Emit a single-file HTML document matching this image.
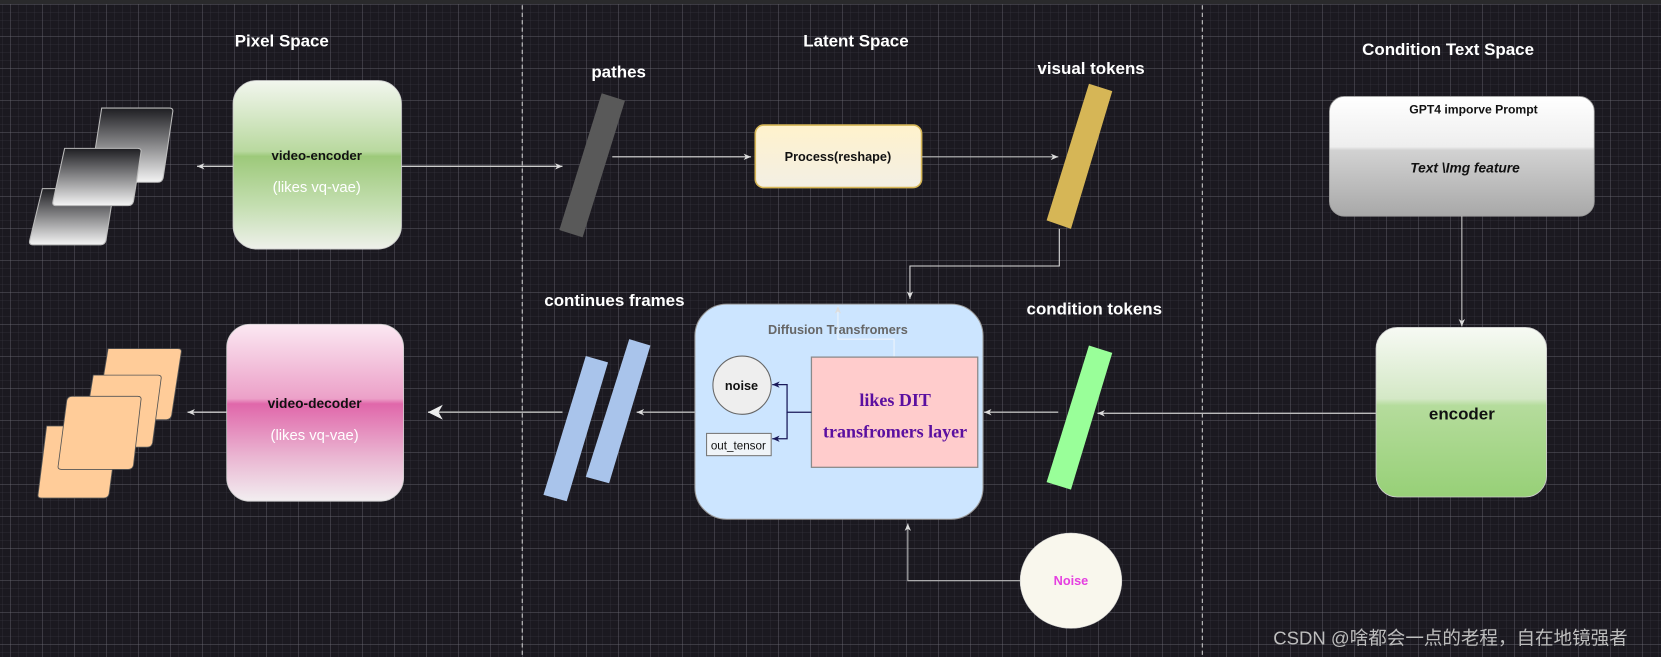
<!DOCTYPE html>
<html><head><meta charset="utf-8"><style>
html,body{margin:0;padding:0;}
body{width:1661px;height:657px;overflow:hidden;background:#1b1920;position:relative;
font-family:"Liberation Sans","Noto Sans CJK SC",sans-serif;}
#grid{position:absolute;left:0;top:0;width:1661px;height:657px;
background-image:
linear-gradient(to right, rgba(110,108,118,0.33) 1px, transparent 1px),
linear-gradient(to bottom, rgba(110,108,118,0.33) 1px, transparent 1px),
linear-gradient(to right, rgba(60,58,68,0.28) 1px, transparent 1px),
linear-gradient(to bottom, rgba(60,58,68,0.28) 1px, transparent 1px);
background-size:32px 32px,32px 32px,8px 8px,8px 8px;
background-position:10px 0,0 4px,10px 0,0 4px;}
#top{position:absolute;left:0;top:0;width:1661px;height:4px;background:#2a2a2c;}
svg{position:absolute;left:0;top:0;}
</style></head><body>
<div id="grid"></div><div id="top"></div>
<svg width="1661" height="657" viewBox="0 0 1568 620" preserveAspectRatio="none" xmlns="http://www.w3.org/2000/svg">
<defs>
<linearGradient id="gray" x1="0" y1="0" x2="0" y2="1"><stop offset="0" stop-color="#1e1e22"/><stop offset="1" stop-color="#f4f4f4"/></linearGradient>
<linearGradient id="gEnc" x1="0" y1="0" x2="0" y2="1"><stop offset="0" stop-color="#f2f6ee"/><stop offset="0.42" stop-color="#b9d99f"/><stop offset="0.45" stop-color="#9dc97a"/><stop offset="0.75" stop-color="#c5dfb2"/><stop offset="1" stop-color="#eef0ea"/></linearGradient>
<linearGradient id="gDec" x1="0" y1="0" x2="0" y2="1"><stop offset="0" stop-color="#fbe8f2"/><stop offset="0.42" stop-color="#eca0c8"/><stop offset="0.45" stop-color="#e067aa"/><stop offset="0.75" stop-color="#eab6d2"/><stop offset="1" stop-color="#f2eef0"/></linearGradient>
<linearGradient id="gGpt" x1="0" y1="0" x2="0" y2="1"><stop offset="0" stop-color="#ffffff"/><stop offset="0.42" stop-color="#eeeeee"/><stop offset="0.45" stop-color="#d2d2d2"/><stop offset="1" stop-color="#a8a8a8"/></linearGradient>
<linearGradient id="gEn2" x1="0" y1="0" x2="0" y2="1"><stop offset="0" stop-color="#f7faf4"/><stop offset="0.42" stop-color="#d4e8c6"/><stop offset="0.46" stop-color="#b5dc9c"/><stop offset="1" stop-color="#97d077"/></linearGradient>
<linearGradient id="gProc" x1="0" y1="0" x2="0" y2="1"><stop offset="0" stop-color="#fff2cc"/><stop offset="1" stop-color="#f3efe4"/></linearGradient>
<marker id="ah" markerWidth="8" markerHeight="8" refX="7" refY="4" orient="auto" markerUnits="userSpaceOnUse"><path d="M0,1 L7,4 L0,7 L2,4 z" fill="#ddd"/></marker>
<marker id="ahd" markerWidth="8" markerHeight="8" refX="7" refY="4" orient="auto" markerUnits="userSpaceOnUse"><path d="M0,1 L7,4 L0,7 L2,4 z" fill="#1a1a5a"/></marker>
<marker id="ahb" markerWidth="16" markerHeight="16" refX="14" refY="8" orient="auto" markerUnits="userSpaceOnUse"><path d="M0,1 L14,8 L0,15 L4,8 z" fill="#eee"/></marker>
</defs>

<line x1="493" y1="5" x2="493" y2="620" stroke="#ccc" stroke-dasharray="4,3" stroke-width="1"/>
<line x1="1135" y1="5" x2="1135" y2="620" stroke="#ccc" stroke-dasharray="4,3" stroke-width="1"/>

<g font-weight="bold" fill="#fff" font-size="16" text-anchor="middle">
<text x="266" y="44">Pixel Space</text>
<text x="808" y="44">Latent Space</text>
<text x="1367" y="52">Condition  Text Space</text>
<text x="584" y="73">pathes</text>
<text x="1030" y="70">visual tokens</text>
<text x="580" y="289">continues frames</text>
<text x="1033" y="297">condition tokens</text>
</g>

<g stroke="#bbb" stroke-width="1" fill="url(#gray)">
<path d="M96,102 H160 Q164,102 163,106 L154,168 Q153,172 149,172 H85 Z" />
<path d="M40,178 H104 Q108,178 107,182 L100,227 Q99,231 95,231 H31 Q27,231 28,227 Z"/>
<path d="M61,140 H130 Q134,140 133,144 L126,190 Q125,194 121,194 H53 Q49,194 50,190 Z"/>
</g>

<rect x="220" y="76" width="159" height="159" rx="22" fill="url(#gEnc)" stroke="#ccc" stroke-width="0.8"/>
<text x="299" y="151" font-size="12.5" font-weight="bold" text-anchor="middle" fill="#111">video-encoder</text>
<text x="299" y="181" font-size="14" text-anchor="middle" fill="#fff">(likes vq-vae)</text>
<line x1="220" y1="157" x2="186" y2="157" stroke="#ccc" stroke-width="1.3" marker-end="url(#ah)"/>
<line x1="379" y1="157" x2="531" y2="157" stroke="#ccc" stroke-width="1.3" marker-end="url(#ah)"/>

<polygon points="568,88 590,95 550,224 528,217" fill="#595959"/>
<line x1="578" y1="148" x2="709" y2="148" stroke="#ddd" stroke-width="1" marker-end="url(#ah)"/>
<rect x="713" y="118" width="157" height="59" rx="8" fill="url(#gProc)" stroke="#d6b656" stroke-width="1.5"/>
<text x="791" y="152" font-size="12" font-weight="bold" text-anchor="middle" fill="#111">Process(reshape)</text>
<line x1="870" y1="148" x2="999" y2="148" stroke="#bbb" stroke-width="1" marker-end="url(#ah)"/>

<polygon points="1028,79 1050,86 1011,216 988,208" fill="#d6b656"/>
<polyline points="1000,216 1000,251 859,251 859,282" fill="none" stroke="#ddd" stroke-width="1" marker-end="url(#ah)"/>

<rect x="1255" y="91" width="250" height="113" rx="14" fill="url(#gGpt)" stroke="#999" stroke-width="0.8"/>
<text x="1391" y="107" font-size="11.5" font-weight="bold" text-anchor="middle" fill="#111">GPT4 imporve Prompt</text>
<text x="1383" y="163" font-size="13" font-weight="bold" font-style="italic" text-anchor="middle" fill="#111">Text \Img feature</text>
<line x1="1380" y1="204" x2="1380" y2="308" stroke="#ccc" stroke-width="1" marker-end="url(#ah)"/>

<rect x="1299" y="309" width="161" height="160" rx="20" fill="url(#gEn2)" stroke="#ccc" stroke-width="0.8"/>
<text x="1380" y="396" font-size="16" font-weight="bold" text-anchor="middle" fill="#111">encoder</text>
<line x1="1299" y1="390" x2="1036" y2="390" stroke="#bbb" stroke-width="1.3" marker-end="url(#ah)"/>

<polygon points="1028,326 1050,333 1011,462 988,455" fill="#99ff99"/>
<line x1="999" y1="389" x2="929" y2="389" stroke="#bbb" stroke-width="1.3" marker-end="url(#ah)"/>

<rect x="656" y="287" width="272" height="203" rx="30" fill="#cce5ff" stroke="#999" stroke-width="1"/>
<text x="791" y="315" font-size="12" font-weight="bold" text-anchor="middle" fill="#666">Diffusion Transfromers</text>
<polyline points="844,337 844,320 791,320 791,289" fill="none" stroke="#eef4fb" stroke-width="1" marker-end="url(#ah)"/>
<rect x="766" y="337" width="157" height="104" fill="#ffcccc" stroke="#8a8a8a" stroke-width="1.2"/>
<text x="845" y="383" font-size="17" font-weight="bold" text-anchor="middle" fill="#5b0fa0" font-family="Liberation Serif, serif">likes DIT</text>
<text x="845" y="413" font-size="17" font-weight="bold" text-anchor="middle" fill="#5b0fa0" font-family="Liberation Serif, serif">transfromers layer</text>
<ellipse cx="700.5" cy="363.5" rx="27.5" ry="27.5" fill="#eeeeee" stroke="#666" stroke-width="1"/>
<text x="700" y="368" font-size="12" font-weight="bold" text-anchor="middle" fill="#111">noise</text>
<rect x="667" y="409" width="61" height="21" fill="#f0f4f8" stroke="#777" stroke-width="1"/>
<text x="697" y="424" font-size="11" text-anchor="middle" fill="#111">out_tensor</text>
<polyline points="766,389 743,389 743,363 729,363" fill="none" stroke="#1a1a5a" stroke-width="1.2" marker-end="url(#ahd)"/>
<polyline points="743,389 743,414 729,414" fill="none" stroke="#1a1a5a" stroke-width="1.2" marker-end="url(#ahd)"/>
<line x1="656" y1="389" x2="601" y2="389" stroke="#bbb" stroke-width="1.3" marker-end="url(#ah)"/>

<polygon points="553,336 574,342 535,473 513,467" fill="#a9c4eb"/>
<polygon points="594,320 614,326 575,456 553,450" fill="#a9c4eb"/>
<line x1="531" y1="389" x2="404" y2="389" stroke="#aaa" stroke-width="1.5" marker-end="url(#ahb)"/>

<rect x="214" y="306" width="167" height="167" rx="22" fill="url(#gDec)" stroke="#ccc" stroke-width="0.8"/>
<text x="297" y="385" font-size="13" font-weight="bold" text-anchor="middle" fill="#111">video-decoder</text>
<text x="297" y="415" font-size="14" text-anchor="middle" fill="#fff">(likes vq-vae)</text>
<line x1="214" y1="389" x2="177" y2="389" stroke="#ccc" stroke-width="1.3" marker-end="url(#ah)"/>

<g fill="#ffcc99" stroke="#555" stroke-width="0.8">
<path d="M102,329 H168 Q172,329 171,333 L162,392 Q161,396 157,396 H91 Z"/>
<path d="M88,354 H149 Q153,354 152,358 L144,418 Q143,422 139,422 H77 Z"/>
<path d="M44,402 H108 Q112,402 111,406 L103,466 Q102,470 98,470 H39 Q35,470 36,466 Z"/>
<path d="M68,374 H130 Q134,374 133,378 L126,439 Q125,443 121,443 H58 Q54,443 55,439 L63,378 Q64,374 68,374 Z"/>
</g>

<ellipse cx="1011" cy="548" rx="48" ry="45" fill="#f9f7ed" stroke="#ccc" stroke-width="0.5"/>
<text x="1011" y="552" font-size="12" font-weight="bold" text-anchor="middle" fill="#e53fe0">Noise</text>
<polyline points="963,548 857,548 857,494" fill="none" stroke="#bbb" stroke-width="1" marker-end="url(#ah)"/>

<text x="1202" y="608" font-size="17.5" fill="#bdbdbd" font-family="Liberation Sans, Noto Sans CJK SC, sans-serif">CSDN @啥都会一点的老程，自在地镜强者</text>
</svg>
</body></html>
